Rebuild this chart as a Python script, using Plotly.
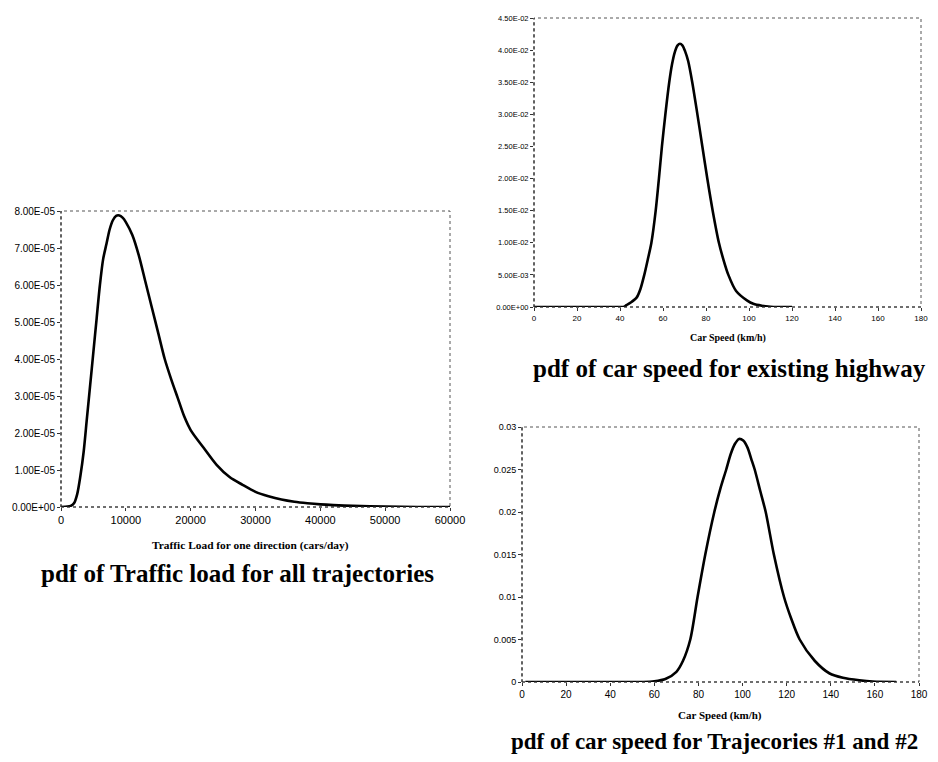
import plotly.graph_objects as go

# ---- Data: traffic load pdf ----
load_x = [0, 1000, 1500, 2000, 2500, 3000, 3500, 4000, 4500, 5000, 5500, 6000, 6500, 7000,
          7500, 8000, 8500, 9000, 9500, 10000, 11000, 12000, 13000, 14000, 15000, 16000,
          17000, 18000, 19000, 20000, 22000, 24000, 26000, 28000, 30000, 32000, 34000,
          36000, 38000, 40000, 42000, 45000, 50000, 55000, 60000]
load_y_e5 = [0, 0.01, 0.03, 0.1, 0.35, 0.85, 1.5, 2.4, 3.3, 4.2, 5.1, 6.0, 6.7, 7.1,
             7.5, 7.75, 7.87, 7.88, 7.82, 7.7, 7.35, 6.8, 6.1, 5.4, 4.7, 4.0,
             3.45, 2.95, 2.45, 2.08, 1.6, 1.14, 0.81, 0.6, 0.41, 0.29, 0.2,
             0.14, 0.1, 0.07, 0.05, 0.03, 0.01, 0.0, 0.0]
load_y = [v * 1e-5 for v in load_y_e5]

load_yticks = [0, 1e-5, 2e-5, 3e-5, 4e-5, 5e-5, 6e-5, 7e-5, 8e-5]
load_ytext = ["0.00E+00", "1.00E-05", "2.00E-05", "3.00E-05", "4.00E-05",
              "5.00E-05", "6.00E-05", "7.00E-05", "8.00E-05"]
load_xticks = [0, 10000, 20000, 30000, 40000, 50000, 60000]
load_xtext = ["0", "10000", "20000", "30000", "40000", "50000", "60000"]

# ---- Data: existing highway speed pdf ----
hw_x = [0, 10, 20, 30, 40, 42, 43, 45, 47.8, 49.5, 51.3, 53, 54.6, 56.6, 58.1, 59.5, 61.1, 62.9,
        64.2, 65.5, 66.7, 67.9, 69.1, 70.3, 71.7, 73.6, 76, 78.3, 80.6, 83.1, 86, 88, 90.4, 94,
        99.2, 102, 106, 110, 113, 120]
hw_y = [0, 0, 0, 0, 0, 0.00005, 0.0003, 0.0007, 0.0015, 0.0028, 0.005, 0.0075, 0.01, 0.015,
        0.02, 0.025, 0.03, 0.035, 0.0378, 0.0397, 0.0407, 0.041, 0.0407, 0.0398, 0.0383, 0.035,
        0.03, 0.025, 0.02, 0.015, 0.01, 0.0075, 0.005, 0.0025, 0.001, 0.0005, 0.0002, 0.00005,
        0.0, 0.0]
hw_yticks = [0, 0.005, 0.01, 0.015, 0.02, 0.025, 0.03, 0.035, 0.04, 0.045]
hw_ytext = ["0.00E+00", "5.00E-03", "1.00E-02", "1.50E-02", "2.00E-02",
            "2.50E-02", "3.00E-02", "3.50E-02", "4.00E-02", "4.50E-02"]
speed_xticks = [0, 20, 40, 60, 80, 100, 120, 140, 160, 180]

# ---- Data: trajectories #1 and #2 speed pdf ----
tr_x = [1.5, 20, 40, 55, 60, 65, 70, 73, 76.3, 79.6, 83.1, 87.2, 90, 92.6, 94.6, 96.5, 98.4,
        100.3, 102.2, 104, 105.5, 108, 110.5, 114.2, 118.8, 122, 125.9, 132.7, 139.5, 145.5,
        153, 159, 169.7]
tr_y = [0, 0, 0, 0, 0.00008, 0.00035, 0.0012, 0.0025, 0.005, 0.01, 0.015, 0.02, 0.0228, 0.025,
        0.0268, 0.028, 0.0286, 0.0284, 0.0276, 0.0262, 0.025, 0.0225, 0.02, 0.015, 0.01,
        0.0075, 0.005, 0.0025, 0.001, 0.0005, 0.0002, 0.00005, 0.0]
tr_yticks = [0, 0.005, 0.01, 0.015, 0.02, 0.025, 0.03]
tr_ytext = ["0", "0.005", "0.01", "0.015", "0.02", "0.025", "0.03"]

# page has an 8px body margin; figure fills the rest of the 938x762 page
OFF = 8
W, H = 938 - 2 * OFF, 762 - 2 * OFF

def px_dom_x(a, b):
    return [(a - OFF) / W, (b - OFF) / W]

def px_dom_y(top, bottom):
    return [1 - (bottom - OFF) / H, 1 - (top - OFF) / H]

fig = go.Figure()
line = dict(color="black", width=2.6, shape="spline", smoothing=0.8)
fig.add_trace(go.Scatter(x=load_x, y=load_y, mode="lines", line=line, xaxis="x", yaxis="y",
                         showlegend=False, hoverinfo="skip"))
fig.add_trace(go.Scatter(x=hw_x, y=hw_y, mode="lines", line=line, xaxis="x2", yaxis="y2",
                         showlegend=False, hoverinfo="skip"))
fig.add_trace(go.Scatter(x=tr_x, y=tr_y, mode="lines", line=line, xaxis="x3", yaxis="y3",
                         showlegend=False, hoverinfo="skip"))

tickfont_common = dict(family="Liberation Sans, Arial", color="black")
axcommon = dict(showgrid=False, zeroline=False, showline=False, ticks="outside", ticklen=3,
                tickcolor="#333", tickwidth=1, automargin=False)

fig.update_layout(
    width=W, height=H, margin=dict(l=0, r=0, t=0, b=0, autoexpand=False),
    paper_bgcolor="white", plot_bgcolor="white",
    xaxis=dict(domain=px_dom_x(61, 450), range=[0, 60000], tickvals=load_xticks,
               ticktext=load_xtext, tickfont=dict(size=11, **tickfont_common), anchor="y",
               **axcommon),
    yaxis=dict(domain=px_dom_y(211, 507), range=[0, 8e-5], tickvals=load_yticks,
               ticktext=load_ytext, tickfont=dict(size=10, **tickfont_common), anchor="x",
               **axcommon),
    xaxis2=dict(domain=px_dom_x(534, 921), range=[0, 180], tickvals=speed_xticks,
                tickfont=dict(size=8, **tickfont_common), anchor="y2", **axcommon),
    yaxis2=dict(domain=px_dom_y(18, 307), range=[0, 0.045], tickvals=hw_yticks,
                ticktext=hw_ytext, tickfont=dict(size=7.5, **tickfont_common), anchor="x2",
                **axcommon),
    xaxis3=dict(domain=px_dom_x(522, 919), range=[0, 180], tickvals=speed_xticks,
                tickfont=dict(size=10, **tickfont_common), anchor="y3", **axcommon),
    yaxis3=dict(domain=px_dom_y(427, 682), range=[0, 0.03], tickvals=tr_yticks,
                ticktext=tr_ytext, tickfont=dict(size=9, **tickfont_common), anchor="x3",
                **axcommon),
)

# dotted plot-area boxes
for xr, yr in [("x", "y"), ("x2", "y2"), ("x3", "y3")]:
    fig.add_shape(type="rect", xref=f"{xr} domain", yref=f"{yr} domain", x0=0, x1=1, y0=0, y1=1,
                  line=dict(color="#555", width=1, dash="dot"), layer="below")
    fig.add_shape(type="line", xref=f"{xr} domain", yref=f"{yr} domain", x0=0, x1=0, y0=0, y1=1,
                  line=dict(color="#333", width=1.2, dash="dot"))
    fig.add_shape(type="line", xref=f"{xr} domain", yref=f"{yr} domain", x0=0, x1=1, y0=0, y1=0,
                  line=dict(color="#333", width=1.2, dash="dot"))

serif = "Liberation Serif, Times New Roman"

def ann(text, xc, yc, size):
    fig.add_annotation(text=text, x=(xc - OFF) / W, y=1 - (yc - OFF) / H, xref="paper",
                       yref="paper", showarrow=False, xanchor="center", yanchor="middle",
                       font=dict(family=serif, size=size, color="black"))

ann("<b>Traffic Load for one direction (cars/day)</b>", 251, 545, 11.4)
ann("<b>pdf of Traffic load for all trajectories</b>", 237, 573, 25)
ann("<b>Car Speed (km/h)</b>", 728, 338, 10)
ann("<b>pdf of car speed for existing highway</b>", 729, 368, 25)
ann("<b>Car Speed (km/h)</b>", 720, 715, 11)
ann("<b>pdf of car speed for Trajecories #1 and #2</b>", 714, 741, 23)

fig.write_html("out.html")
